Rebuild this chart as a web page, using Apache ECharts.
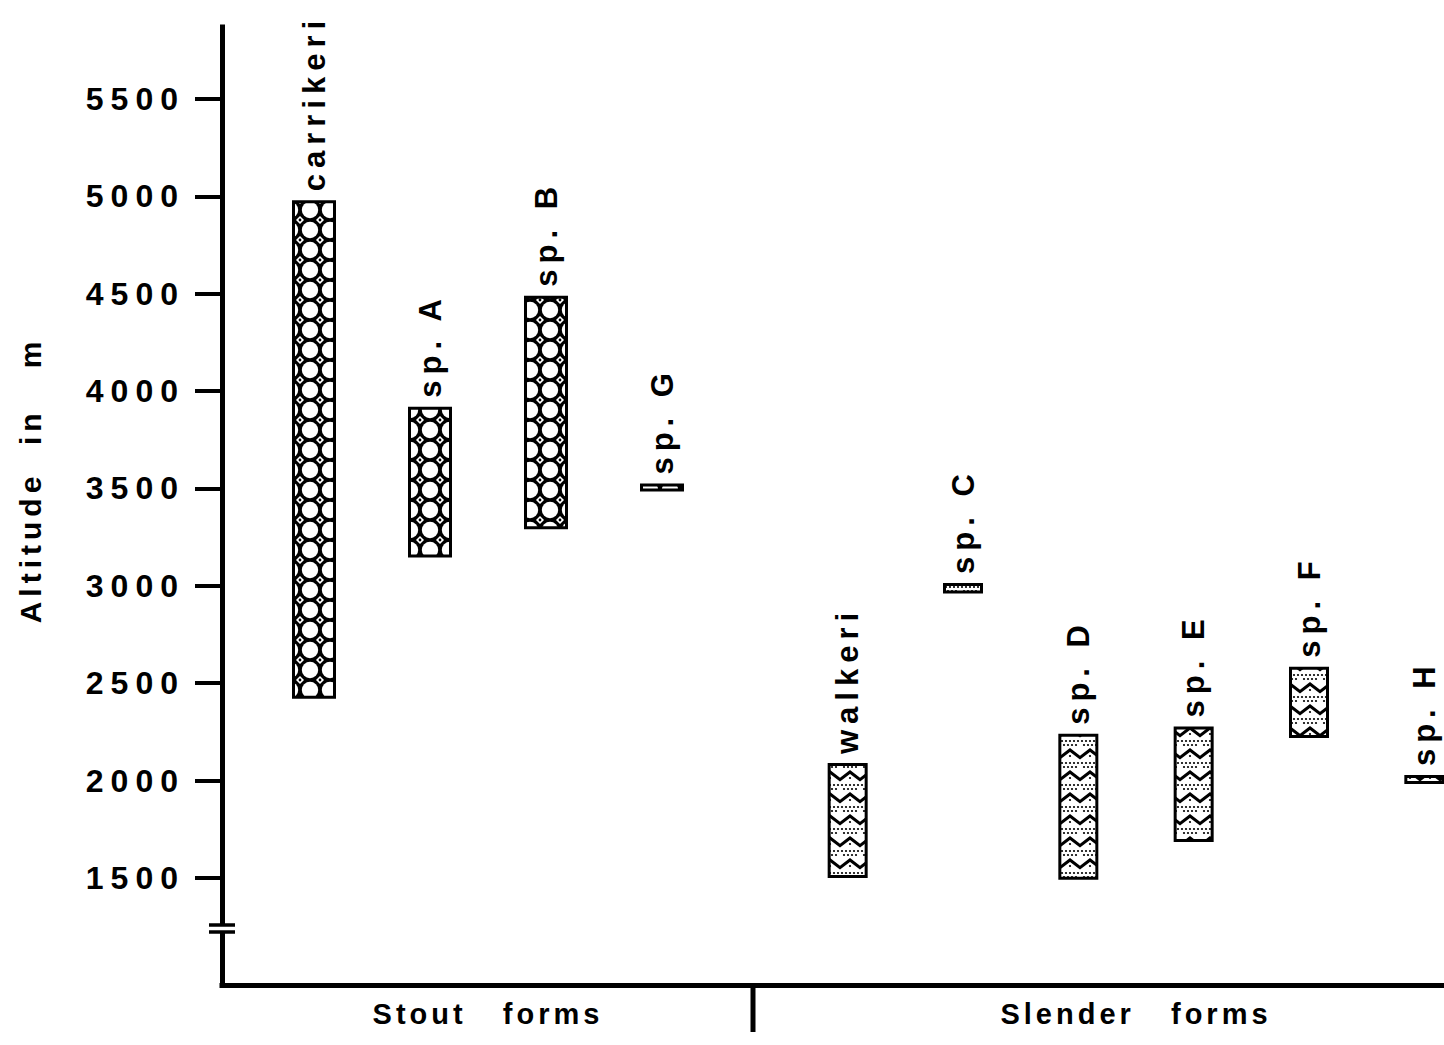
<!DOCTYPE html>
<html><head><meta charset="utf-8">
<script src="https://cdn.jsdelivr.net/npm/echarts@6/dist/echarts.min.js"></script>
<style>
html,body{margin:0;padding:0;background:#fff;}
#chart{width:1444px;height:1045px;}
#chart text[style*="32px"]{letter-spacing:7px;}
#chart text[style*="31px"]{letter-spacing:6px;}
#chart text[style*="30px"]{letter-spacing:5px;}
#chart text[style*="29px"]{letter-spacing:4px;}
</style></head><body><div id="chart"></div>
<script>
// ---- data ----
const stoutNames = ['carrikeri', 'sp. A', 'sp. B', 'sp. G'];
const stoutLow  = [2420, 3145, 3290, 3485];
const stoutHigh = [4980, 3920, 4490, 3525];
const slenderNames = ['walkeri', 'sp. C', 'sp. D', 'sp. E', 'sp. F', 'sp. H'];
const slenderLow  = [1500, 2960, 1490, 1685, 2218, 1982];
const slenderHigh = [2090, 3015, 2240, 2278, 2585, 2028];
const yTicks = [1500, 2000, 2500, 3000, 3500, 4000, 4500, 5000, 5500];
const groupNames = ['Stout   forms', 'Slender   forms'];
const yTitle = 'Altitude  in   m';

// ---- patterns ----
function stoutTile() {
  const c = document.createElement('canvas'); c.width = 20; c.height = 20;
  const g = c.getContext('2d');
  g.fillStyle = '#000'; g.fillRect(0, 0, 20, 20);
  g.fillStyle = '#fff';
  g.beginPath(); g.arc(10, 10, 8.2, 0, Math.PI * 2); g.fill();
  const corners = [[0, 0], [20, 0], [0, 20], [20, 20]];
  corners.forEach(([x, y]) => {
    g.beginPath(); g.moveTo(x - 4, y); g.lineTo(x, y - 4); g.lineTo(x + 4, y); g.lineTo(x, y + 4); g.closePath(); g.fill();
  });
  g.fillStyle = '#000';
  corners.forEach(([x, y]) => { g.beginPath(); g.arc(x, y, 1.4, 0, Math.PI * 2); g.fill(); });
  return c;
}
function slenderTile() {
  const c = document.createElement('canvas'); c.width = 20; c.height = 22;
  const g = c.getContext('2d');
  g.fillStyle = '#fff'; g.fillRect(0, 0, 20, 22);
  g.strokeStyle = '#000'; g.lineWidth = 3;
  g.beginPath(); g.moveTo(-3, 12); g.lineTo(10, 2); g.lineTo(23, 12); g.stroke();
  g.fillStyle = '#000';
  const dots = [[10, 8], [2, 15], [6, 15], [10, 15], [14, 15], [18, 15], [4, 19], [8, 19], [12, 19], [16, 19]];
  dots.forEach(([x, y]) => { g.beginPath(); g.arc(x, y, 1.1, 0, Math.PI * 2); g.fill(); });
  return c;
}

const F = '"Liberation Sans", Arial, Helvetica, sans-serif';
const TOP = 27, BOTTOM = 60, Y_MIN = 950, Y_MAX = 5870;

function rangeSeries(names, low, high, axis, stack, tile, tw, th, bw) {
  return [
    { type: 'bar', xAxisIndex: axis, yAxisIndex: axis, stack: stack, data: low, barWidth: bw,
      itemStyle: { color: 'transparent' }, silent: true, emphasis: { disabled: true } },
    { type: 'bar', xAxisIndex: axis, yAxisIndex: axis, stack: stack, barWidth: bw,
      data: high.map((h, i) => h - low[i]),
      itemStyle: { color: { image: tile, repeat: 'repeat', imageWidth: tw, imageHeight: th }, borderColor: '#000', borderWidth: 3 },
      emphasis: { disabled: true },
      label: { show: true, position: 'top', distance: 9, rotate: 90, align: 'left', verticalAlign: 'middle',
        formatter: '{b}', fontFamily: F, fontWeight: 'bold', fontSize: 31, color: '#000' } }
  ];
}

const chart = echarts.init(document.getElementById('chart'), null, { renderer: 'svg', width: 1444, height: 1045 });
const nameStyle = { fontFamily: F, fontWeight: 'bold', fontSize: 29, color: '#000', align: 'center', verticalAlign: 'middle' };
chart.setOption({
  animation: false,
  backgroundColor: '#fff',
  grid: [
    { left: 222, right: 0, top: TOP, bottom: BOTTOM, outerBoundsMode: 'none' },
    { left: 256, width: 464, top: TOP, bottom: BOTTOM, outerBoundsMode: 'none' },
    { left: 790, width: 692, top: TOP, bottom: BOTTOM, outerBoundsMode: 'none' }
  ],
  xAxis: [
    { gridIndex: 0, type: 'value', min: 0, max: 1,
      axisLine: { show: true, lineStyle: { color: '#000', width: 5, cap: 'square' } },
      axisTick: { show: false }, axisLabel: { show: false }, splitLine: { show: false } },
    { gridIndex: 1, type: 'category', data: stoutNames, axisLine: { show: false }, axisTick: { show: false },
      axisLabel: { show: false }, name: groupNames[0], nameLocation: 'middle', nameGap: 29, nameTextStyle: nameStyle },
    { gridIndex: 2, type: 'category', data: slenderNames, axisLine: { show: false }, axisTick: { show: false },
      axisLabel: { show: false }, name: groupNames[1], nameLocation: 'middle', nameGap: 29, nameTextStyle: nameStyle }
  ],
  yAxis: [
    { gridIndex: 0, type: 'value', min: Y_MIN, max: Y_MAX,
      axisLine: { show: true, lineStyle: { color: '#000', width: 5, cap: 'square' } },
      axisTick: { show: true, length: 27, lineStyle: { color: '#000', width: 4 }, customValues: yTicks },
      axisLabel: { customValues: yTicks, margin: 37, formatter: v => String(v), fontFamily: F, fontWeight: 'bold', fontSize: 32, color: '#000' },
      splitLine: { show: false },
      name: yTitle, nameLocation: 'middle', nameRotate: 90, nameGap: 192,
      nameTextStyle: { fontFamily: F, fontWeight: 'bold', fontSize: 30, color: '#000', align: 'center', verticalAlign: 'middle', padding: [0, 0, 0, 52] } },
    { gridIndex: 1, type: 'value', min: Y_MIN, max: Y_MAX, show: false, splitLine: { show: false } },
    { gridIndex: 2, type: 'value', min: Y_MIN, max: Y_MAX, show: false, splitLine: { show: false } }
  ],
  series: [
    ...rangeSeries(stoutNames, stoutLow, stoutHigh, 1, 'stout', stoutTile(), 20, 20, 44),
    ...rangeSeries(slenderNames, slenderLow, slenderHigh, 2, 'slender', slenderTile(), 20, 22, 40)
  ],
  graphic: [
    { type: 'line', z: 100, shape: { x1: 753, y1: 985, x2: 753, y2: 1032 }, style: { stroke: '#000', lineWidth: 5 } },
    { type: 'rect', z: 100, shape: { x: 214, y: 926, width: 16, height: 5 }, style: { fill: '#fff' } },
    { type: 'line', z: 101, shape: { x1: 209, y1: 925, x2: 235, y2: 925 }, style: { stroke: '#000', lineWidth: 3.5 } },
    { type: 'line', z: 101, shape: { x1: 209, y1: 932, x2: 235, y2: 932 }, style: { stroke: '#000', lineWidth: 3.5 } }
  ]
});
</script></body></html>
